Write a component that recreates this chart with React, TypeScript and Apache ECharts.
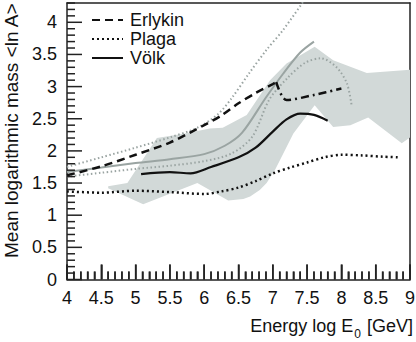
import React, { useEffect, useRef } from "react";
import * as echarts from "echarts";

// ---- data ----
const X_MAJOR = [4, 4.5, 5, 5.5, 6, 6.5, 7, 7.5, 8, 8.5, 9];
const Y_MAJOR = [0, 0.5, 1, 1.5, 2, 2.5, 3, 3.5, 4];
const MINOR_STEP = 0.1;

const ERLYKIN_E = [4.0, 4.5, 5.0, 5.5, 6.0, 6.25, 6.5, 6.75, 7.0, 7.05];
const ERLYKIN_LNA = [1.62, 1.76, 1.94, 2.13, 2.4, 2.55, 2.74, 2.9, 3.04, 3.07];

const ERLYKIN2_E = [7.05, 7.2, 7.6, 8.0];
const ERLYKIN2_LNA = [3.07, 2.79, 2.87, 2.97];

const PLAGA_E = [4.0, 4.5, 5.0, 5.5, 6.0, 6.25, 6.5, 6.75, 7.0, 7.25, 7.5, 7.75, 8.0, 8.3, 8.6, 8.85];
const PLAGA_LNA = [1.37, 1.35, 1.38, 1.36, 1.33, 1.37, 1.43, 1.53, 1.65, 1.74, 1.82, 1.9, 1.94, 1.93, 1.91, 1.9];

const VOELK_E = [5.08, 5.5, 5.8, 6.1, 6.5, 6.75, 7.0, 7.2, 7.4, 7.6, 7.8];
const VOELK_LNA = [1.64, 1.67, 1.65, 1.75, 1.9, 2.05, 2.3, 2.49, 2.58, 2.56, 2.47];

const GREY_SOLID_E = [4.0, 4.5, 5.0, 5.5, 6.0, 6.3, 6.55, 6.9, 7.15, 7.4, 7.6];
const GREY_SOLID_LNA = [1.67, 1.74, 1.81, 1.87, 1.95, 2.08, 2.28, 2.83, 3.2, 3.53, 3.7];

const GREY_DOT_UP_E = [4.0, 4.5, 5.0, 5.5, 5.9, 6.2, 6.4, 6.65, 6.9, 7.15, 7.45];
const GREY_DOT_UP_LNA = [1.75, 1.9, 2.05, 2.21, 2.36, 2.57, 2.82, 3.2, 3.56, 3.88, 4.33];

const GREY_DOT_LO_E = [4.0, 4.5, 5.0, 5.5, 6.0, 6.4, 6.7, 6.95, 7.22, 7.47, 7.7, 7.93, 8.08, 8.15];
const GREY_DOT_LO_LNA = [1.6, 1.66, 1.72, 1.77, 1.84, 1.96, 2.22, 2.8, 3.14, 3.37, 3.44, 3.3, 3.05, 2.7];

// shaded band: upper edge left->right, then lower edge right->left
const BAND_E = [4.6, 4.88, 5.31, 5.72, 6.08, 6.27, 6.62, 6.96, 7.2, 7.61, 7.88, 8.37, 9.0,
  9.0, 8.88, 8.39, 8.13, 7.88, 7.61, 7.3, 7.03, 6.91, 6.81, 6.67, 6.57, 6.35, 5.9, 5.11, 4.6];
const BAND_LNA = [1.45, 1.5, 2.2, 2.27, 2.35, 2.36, 2.56, 3.1, 3.36, 3.62, 3.41, 3.21, 3.26,
  2.21, 2.12, 2.52, 2.4, 2.37, 2.71, 2.27, 1.7, 1.5, 1.39, 1.29, 1.25, 1.23, 1.5, 1.17, 1.42];

const X_MIN = 4, X_MAX = 9, Y_MIN = 0, Y_MAX = 4.3;

const zip = (xs: number[], ys: number[]) => xs.map((x, i) => [x, ys[i]]);

const FONT = "'Liberation Sans', Arial, Helvetica, sans-serif";
const BLACK = "#111";
const AX = "#222";
const GREY = "#9aa4a2";
const BAND = "#d2d9d8";
const MAJOR_LEN = 15;
const MINOR_LEN = 8;
const TICK_W = 1.5;

function tickValues(min: number, max: number, step: number) {
  const out: number[] = [];
  const n = Math.round((max - min) / step);
  for (let i = 0; i <= n; i++) out.push(Math.round((min + i * step) * 1000) / 1000);
  return out;
}
const isIn = (arr: number[], v: number) => arr.some((m) => Math.abs(m - v) < 1e-6);

export default function App() {
  const ref = useRef<HTMLDivElement>(null);
  useEffect(() => {
    if (!ref.current) return;
    const chart = echarts.init(ref.current, null, { renderer: "svg" });
    const bandPts = zip(BAND_E, BAND_LNA);
    const line = (name: string, xs: number[], ys: number[], color: string, width: number, type: any, z = 3) => ({
      name,
      type: "line",
      data: zip(xs, ys),
      symbol: "none",
      smooth: 0.3,
      z,
      lineStyle: { color, width, type, cap: "butt" },
      itemStyle: { color },
    });
    const axLine = { show: true, onZero: false, lineStyle: { color: AX, width: 1.5 } };
    const frameAxis = (position: string, min: number, max: number) => ({
      type: "value", min, max, position,
      axisLine: axLine,
      axisTick: { show: false },
      axisLabel: { show: false },
      splitLine: { show: false },
    });
    const xAll = tickValues(X_MIN, X_MAX, MINOR_STEP);
    const yAll = tickValues(Y_MIN, Y_MAX, MINOR_STEP);
    const xMinor = xAll.filter((v) => !isIn(X_MAJOR, v));
    const yMinor = yAll.filter((v) => !isIn(Y_MAJOR, v));
    const tickSeries = (name: string, data: number[][], size: number[], offset: number[]) => ({
      name,
      type: "scatter",
      data,
      symbol: "rect",
      symbolSize: size,
      symbolOffset: offset,
      clip: false,
      silent: true,
      z: 8,
      itemStyle: { color: AX, opacity: 1 },
      emphasis: { disabled: true },
    });
    chart.setOption({
      animation: false,
      textStyle: { fontFamily: FONT },
      grid: { left: 67, right: 6, top: 3, bottom: 62.5, outerBoundsMode: "none", containLabel: false },
      legend: {
        data: ["Erlykin", "Plaga", "Völk"],
        orient: "vertical",
        left: 86,
        top: 6,
        itemWidth: 31,
        itemHeight: 12,
        itemGap: 1,
        itemStyle: { opacity: 0 },
        textStyle: { fontSize: 18, lineHeight: 18, color: BLACK, fontFamily: FONT, padding: [0, 0, 0, 2] },
      },
      xAxis: [
        {
          type: "value", min: X_MIN, max: X_MAX, interval: 0.5, position: "bottom",
          axisLine: axLine,
          axisTick: { show: true, inside: true, length: MAJOR_LEN, lineStyle: { color: AX, width: 1.5 } },
          minorTick: { show: true, splitNumber: 5, length: MINOR_LEN, lineStyle: { color: AX, width: 1.5 } },
          axisLabel: { fontSize: 18, color: BLACK, margin: 9, fontFamily: FONT },
          splitLine: { show: false },
          name: "{m|Energy log E}{sub|0}{m| [GeV]}",
          nameLocation: "end",
          nameGap: 3,
          nameTextStyle: {
            align: "right", verticalAlign: "top", padding: [37, 0, 0, 0], color: BLACK,
            rich: {
              m: { fontSize: 18, lineHeight: 20, verticalAlign: "top", color: BLACK, fontFamily: FONT },
              sub: { fontSize: 12, lineHeight: 12, verticalAlign: "top", padding: [11, 1, 0, 1], color: BLACK, fontFamily: FONT },
            },
          },
        },
        frameAxis("top", X_MIN, X_MAX),
      ],
      yAxis: [
        {
          type: "value", min: Y_MIN, max: Y_MAX, interval: 0.5, position: "left",
          axisLine: axLine,
          axisTick: { show: false },
          axisLabel: { fontSize: 18, color: BLACK, margin: 10, showMaxLabel: false, fontFamily: FONT },
          splitLine: { show: false },
          name: "Mean logarithmic mass <ln A>",
          nameLocation: "middle",
          nameGap: 46,
          nameTextStyle: { fontSize: 19, color: BLACK, fontFamily: FONT, padding: [0, 0, 0, 21] },
        },
        frameAxis("right", Y_MIN, Y_MAX),
      ],
      series: [
        {
          name: "band",
          type: "custom",
          z: 1,
          silent: true,
          clip: true,
          data: bandPts,
          renderItem: (params: any, api: any) => {
            if (params.dataIndex !== 0) return null;
            const points = bandPts.map((p) => api.coord(p));
            return { type: "polygon", shape: { points }, style: { fill: BAND } };
          },
        },
        tickSeries("x major ticks", X_MAJOR.map((v) => [v, Y_MIN]), [TICK_W, MAJOR_LEN], [0, -MAJOR_LEN / 2]),
        tickSeries("x minor ticks", xMinor.map((v) => [v, Y_MIN]), [TICK_W, MINOR_LEN], [0, -MINOR_LEN / 2]),
        tickSeries("y major ticks", Y_MAJOR.map((v) => [X_MIN, v]), [MAJOR_LEN, TICK_W], [MAJOR_LEN / 2, 0]),
        tickSeries("y minor ticks", yMinor.map((v) => [X_MIN, v]), [MINOR_LEN, TICK_W], [MINOR_LEN / 2, 0]),
        line("grey dotted upper", GREY_DOT_UP_E, GREY_DOT_UP_LNA, GREY, 2, [1.5, 2.5], 2),
        line("grey dotted lower", GREY_DOT_LO_E, GREY_DOT_LO_LNA, GREY, 2, [1.5, 2.5], 2),
        line("grey solid", GREY_SOLID_E, GREY_SOLID_LNA, GREY, 2, "solid", 2),
        line("Erlykin", ERLYKIN_E, ERLYKIN_LNA, BLACK, 2.5, [8, 5]),
        line("Erlykin (cont.)", ERLYKIN2_E, ERLYKIN2_LNA, BLACK, 2.5, [8, 4, 2, 4]),
        line("Plaga", PLAGA_E, PLAGA_LNA, BLACK, 2.5, [2, 3]),
        line("Völk", VOELK_E, VOELK_LNA, BLACK, 2.2, "solid"),
      ],
    });
    return () => chart.dispose();
  }, []);
  return <div ref={ref} style={{ position: "fixed", left: 0, top: 0, width: 416, height: 342, background: "#fff" }} />;
}
